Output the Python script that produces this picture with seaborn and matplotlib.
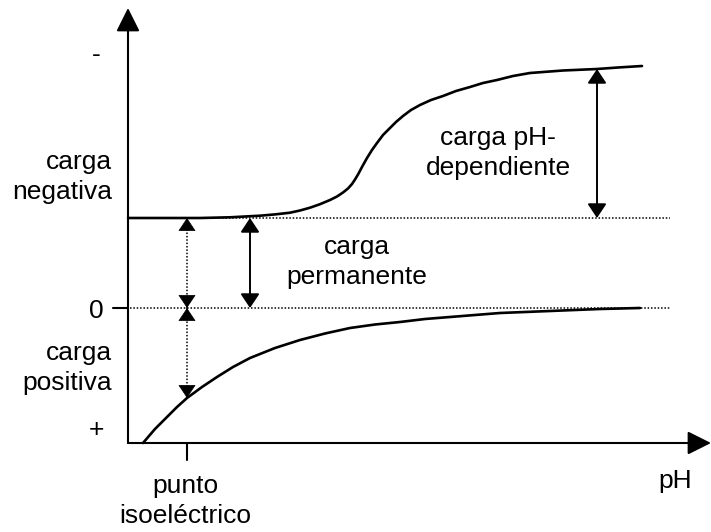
import matplotlib
matplotlib.use("Agg")
import pandas as pd
import matplotlib.pyplot as plt
import seaborn as sns

# -----------------------------
# Data (x: distance right of the charge axis, y: charge above the zero line)
# -----------------------------
upper_x = [0, 72, 102, 132, 147, 162, 172, 182, 192, 202, 209, 215, 220, 224,
           227, 230, 234, 239, 244, 249, 255, 262, 268, 275, 283, 292, 303,
           315, 328, 342, 355, 369, 385, 402, 435, 469, 490, 514]
upper_y = [90, 90, 90.7, 92.3, 93.6, 95.3, 97.5, 100.3, 103.8, 108, 111.5,
           115.5, 119.5, 124, 128.5, 133.5, 141, 150, 158, 165, 173, 180, 186,
           192, 198, 203, 208, 212, 217, 221, 225, 228, 232, 235, 237.5, 239,
           240.5, 242]

lower_x = [15, 27, 39, 49, 59, 74, 89, 105, 122, 147, 172, 197, 222, 247,
           272, 297, 322, 347, 372, 397, 422, 447, 472, 492, 512]
lower_y = [-135, -121, -109, -99, -90, -79, -69, -59, -50, -40, -32, -25.5,
           -20, -16.5, -14, -11, -9, -7, -5, -4, -3, -2, -1, -0.5, 0]

permanent_level = 90
zero_level = 0
axis_bottom = -135
axis_top = 300
axis_right = 583
guide_end = 542

iep_x = 59            # punto isoeléctrico
iep_curve_y = -90     # where the dotted arrow meets the lower curve
perm_arrow_x = 122
ph_arrow_x = 469
ph_arrow_top = 239

y_tick_labels = ["-", "0", "+"]
y_tick_pos = [253, -3, -122]

FONT = ["Liberation Sans", "DejaVu Sans"]
FS = 19
DOTS = (0, (1, 1.2))


def double_arrow(ax, x, y0, y1):
    ax.annotate("", xy=(x, y1), xytext=(x, y0),
                arrowprops=dict(arrowstyle="<|-|>,head_length=0.6,head_width=0.4",
                                mutation_scale=14.4, lw=1.4, color="black",
                                shrinkA=0, shrinkB=0))


def dotted_arrow(ax, x, y0, y1):
    # dotted shaft, solid heads at both ends
    ax.plot([x, x], [y0, y1], color="black", lw=1.1, ls=DOTS)
    step = 12 if y1 > y0 else -12
    for tip, back in [(y0, y0 + step), (y1, y1 - step)]:
        ax.annotate("", xy=(x, tip), xytext=(x, back),
                    arrowprops=dict(arrowstyle="-|>,head_length=0.6,head_width=0.4",
                                    mutation_scale=14.4, lw=0.5, color="black",
                                    shrinkA=0, shrinkB=0))


def main() -> None:
    sns.set_theme(style="white")
    plt.rcParams["font.family"] = FONT
    plt.rcParams["text.color"] = "black"

    fig = plt.figure(figsize=(7.11, 5.32), dpi=100)
    ax = fig.add_axes([0, 0, 1, 1])
    ax.set_xlim(-128, 583)
    ax.set_ylim(-224, 308)
    ax.axis("off")

    # guide lines
    ax.plot([0, guide_end], [permanent_level, permanent_level],
            color="black", lw=1.1, ls=DOTS)
    ax.plot([2, guide_end], [zero_level, zero_level],
            color="black", lw=1.1, ls=DOTS)

    # curves
    up = pd.DataFrame({"x": upper_x, "y": upper_y})
    lo = pd.DataFrame({"x": lower_x, "y": lower_y})
    for d in (up, lo):
        sns.lineplot(data=d, x="x", y="y", ax=ax, color="black", lw=1.9,
                     sort=False, solid_joinstyle="round")

    # axes with arrow heads
    axis_style = dict(arrowstyle="-|>,head_length=1.0,head_width=0.5",
                      mutation_scale=14.4, lw=1.5, color="black",
                      shrinkA=0, shrinkB=0)
    ax.annotate("", xy=(0, axis_top), xytext=(0, axis_bottom), arrowprops=axis_style)
    ax.annotate("", xy=(axis_right, axis_bottom), xytext=(0, axis_bottom),
                arrowprops=axis_style)

    # ticks
    ax.plot([-15, 0], [zero_level, zero_level], color="black", lw=1.5)
    ax.plot([iep_x, iep_x], [axis_bottom, axis_bottom - 17], color="black", lw=1.5)

    # arrows
    double_arrow(ax, ph_arrow_x, permanent_level, ph_arrow_top)
    double_arrow(ax, perm_arrow_x, permanent_level, zero_level)
    dotted_arrow(ax, iep_x, zero_level, permanent_level)
    dotted_arrow(ax, iep_x, zero_level, iep_curve_y)

    # texts
    for lab, y in zip(y_tick_labels, y_tick_pos):
        ax.text(-32, y, lab, ha="center", va="center", fontsize=FS)
    two_line = dict(fontsize=FS, linespacing=1.3, va="center")
    ax.text(-16, 131, "carga\nnegativa", ha="right", **two_line)
    ax.text(-16, -60, "carga\npositiva", ha="right", **two_line)
    ax.text(370, 155, "carga pH-\ndependiente", ha="center", **two_line)
    ax.text(229, 46, "carga\npermanente", ha="center", **two_line)
    ax.text(57, -193, "punto\nisoeléctrico", ha="center", **two_line)
    ax.text(547, -173, "pH", ha="center", va="center", fontsize=FS)

    fig.savefig("out.png", dpi=100, facecolor="white")
    plt.close(fig)


if __name__ == "__main__":
    main()
